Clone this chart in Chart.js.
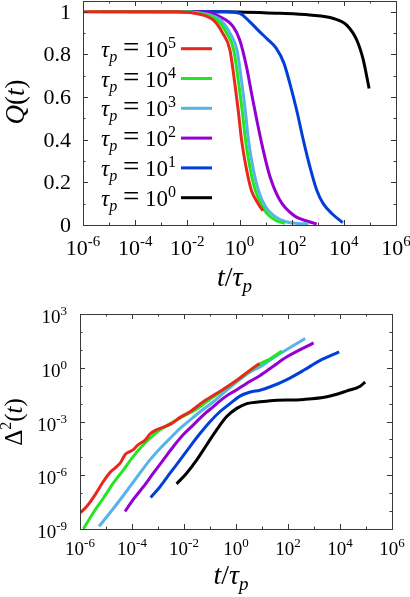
<!DOCTYPE html>
<html>
<head>
<meta charset="utf-8">
<script src="https://cdn.jsdelivr.net/npm/chart.js@4.4.1/dist/chart.umd.min.js"></script>
<style>
  html, body { margin: 0; padding: 0; background: #fff; }
  #wrap { position: relative; width: 410px; height: 597px; }
  canvas { position: absolute; left: 0; }
</style>
</head>
<body>
<div id="wrap">
  <canvas id="chart-q" width="410" height="300" style="top:0"></canvas>
  <canvas id="chart-msd" width="410" height="297" style="top:300px"></canvas>
</div>
<script>
// series order: tau_p = 10^5, 10^4, 10^3, 10^2, 10^1, 10^0
const tauExps = ['5', '4', '3', '2', '1', '0'];
const colors = ['#e8281e', '#22e622', '#56b4e9', '#9400d3', '#0040d8', '#000000'];

// Q(t) vs t/tau_p
const tQ5 = [1e-6, 1e-3, 5e-3, 3e-2, 1e-1, 2.3e-1, 4.3e-1, 6.6e-1, 8.9e-1, 1.2, 1.86, 2.9, 5.2, 7.8];
const q5 = [1, 1, 1, 0.988, 0.96, 0.898, 0.82, 0.664, 0.539, 0.398, 0.26, 0.16, 0.10, 0.067];
const tQ4 = [1.5e-6, 1e-3, 7e-3, 4.3e-2, 1.4e-1, 3.2e-1, 6e-1, 9.3e-1, 1.26, 1.7, 2.6, 4.1, 7.2, 11, 26, 55];
const q4 = [1, 1, 1, 0.988, 0.96, 0.9, 0.82, 0.664, 0.539, 0.398, 0.26, 0.16, 0.09, 0.055, 0.02, 0.008];
const tQ3 = [5e-6, 1e-3, 1e-2, 5.6e-2, 1.86e-1, 4.3e-1, 8e-1, 1.23, 1.66, 2.2, 3.4, 5.4, 10, 20, 60, 180, 440];
const q3 = [1, 1, 1, 0.988, 0.96, 0.9, 0.82, 0.664, 0.539, 0.398, 0.26, 0.16, 0.085, 0.045, 0.015, 0.007, 0.005];
const tQ2 = [5e-5, 1e-2, 5.5e-2, 1.8e-1, 5.8e-1, 1.03, 1.86, 2.9, 4.6, 8.1, 14.8, 35, 115, 500, 910];
const q2 = [1, 1, 0.999, 0.976, 0.929, 0.866, 0.741, 0.617, 0.492, 0.351, 0.226, 0.117, 0.047, 0.014, 0.005];
const tQ1 = [5e-4, 3.2e-1, 1.03, 2.5, 6, 12, 25, 50, 85, 155, 280, 500, 910, 1620, 4000, 9100];
const q1 = [1, 1, 0.992, 0.952, 0.905, 0.87, 0.83, 0.76, 0.664, 0.539, 0.398, 0.273, 0.164, 0.10, 0.047, 0.011];
const tQ0 = [5e-3, 2.3e-1, 35, 500, 4000, 12900, 31600, 56000, 76000, 93000];
const q0 = [1, 1, 0.992, 0.984, 0.968, 0.937, 0.866, 0.773, 0.695, 0.64];

// Delta^2(t) vs t/tau_p
const tD5 = [1e-6, 1.8e-6, 3.8e-6, 7.9e-6, 1.4e-5, 2.2e-5, 3.5e-5, 5.4e-5, 7.2e-5, 1.1e-4, 1.7e-4, 3.2e-4, 4.9e-4, 7.6e-4, 1.6e-3, 3.4e-3, 7.1e-3, 1.7e-2, 5.5e-2, 3.2e-1, 1.07, 3.5, 7.9];
const d5 = [7.8e-9, 1.8e-8, 8.1e-8, 4.5e-7, 1.4e-6, 2.5e-6, 4.7e-6, 1.4e-5, 1.9e-5, 2.6e-5, 4.9e-5, 9.3e-5, 2.0e-4, 3.1e-4, 4.8e-4, 7.9e-4, 1.7e-3, 3.5e-3, 1.26e-2, 6.2e-2, 0.2, 0.74, 1.74];
const tD4 = [1.35e-6, 3.2e-6, 7.9e-6, 1.9e-5, 4.7e-5, 1.1e-4, 3.6e-4, 1.2e-3, 3.9e-3, 9.3e-3, 3.1e-2, 0.1, 0.32, 1.07, 3.5, 8.5, 21, 59];
const d4 = [1e-9, 7.8e-9, 5.2e-8, 3.6e-7, 2.0e-6, 1.1e-5, 7.6e-5, 3.4e-4, 9.5e-4, 1.95e-3, 5.0e-3, 1.74e-2, 5.8e-2, 0.19, 0.68, 1.66, 3.2, 8.7];
const tD3 = [5.4e-6, 1.4e-5, 3.5e-5, 8.3e-5, 2.0e-4, 4.9e-4, 1.2e-3, 2.9e-3, 7.1e-3, 1.7e-2, 4.2e-2, 0.135, 0.44, 1.07, 3.5, 8.3, 20, 50, 457];
const d3 = [1.4e-9, 7.8e-9, 4.3e-8, 2.3e-7, 1.3e-6, 7.2e-6, 3.1e-5, 1.15e-4, 4.1e-4, 1.2e-3, 3.5e-3, 1.26e-2, 5.6e-2, 0.166, 0.59, 1.12, 2.6, 6.2, 43];
const tD2 = [5.4e-5, 1.1e-4, 2.75e-4, 6.6e-4, 1.6e-3, 3.9e-3, 9.3e-3, 2.3e-2, 5.5e-2, 0.135, 0.32, 1.07, 3.5, 8.5, 28, 91, 966];
const d2 = [9.5e-9, 4.3e-8, 2.3e-7, 1.3e-6, 7.2e-6, 4.0e-5, 1.8e-4, 6.5e-4, 2.3e-3, 6.8e-3, 1.95e-2, 6.0e-2, 0.178, 0.37, 1.26, 4.1, 24.5];
const tD1 = [5.2e-4, 1.2e-3, 2.9e-3, 7.1e-3, 1.7e-2, 4.2e-2, 0.1, 0.24, 0.59, 1.41, 3.55, 8.3, 21, 91, 400, 1740, 9300];
const d1 = [5.8e-8, 2.3e-7, 1.3e-6, 7.2e-6, 4.0e-5, 2.2e-4, 9.8e-4, 3.5e-3, 1.0e-2, 2.6e-2, 4.4e-2, 5.6e-2, 8.7e-2, 0.22, 0.72, 2.6, 7.6];
const tD0 = [5.2e-3, 1.26e-2, 3.1e-2, 7.4e-2, 0.18, 0.44, 1.07, 2.6, 8.3, 21, 400, 3160, 18600, 60000, 93000];
const d0 = [3.3e-7, 1.3e-6, 7.2e-6, 4.9e-5, 3.4e-4, 1.9e-3, 5.4e-3, 1.0e-2, 1.26e-2, 1.45e-2, 1.7e-2, 2.4e-2, 5.1e-2, 9.3e-2, 0.16];

// axis ticks
const xMajor = [1e-6, 1e-4, 1e-2, 1, 1e2, 1e4, 1e6];
const xMajorLabels = ['-6', '-4', '-2', '0', '2', '4', '6'];
const xMinor = [1e-5, 1e-3, 1e-1, 1e1, 1e3, 1e5];
const qMajor = [0, 0.2, 0.4, 0.6, 0.8, 1];
const qMajorLabels = ['0', '0.2', '0.4', '0.6', '0.8', '1'];
const qMinor = [0.1, 0.3, 0.5, 0.7, 0.9];
const dMajor = [1e-9, 1e-6, 1e-3, 1, 1e3];
const dMajorLabels = ['-9', '-6', '-3', '0', '3'];
const dMinor = [1e-8, 1e-7, 1e-5, 1e-4, 1e-2, 1e-1, 1e1, 1e2];

const SERIF = '"Liberation Serif", "DejaVu Serif", serif';

// draws a row of text pieces: [text, size, italic, dy]
function drawRuns(ctx, runs, x, y, align) {
  const fontOf = r => `${r[2] ? 'italic ' : ''}${r[1]}px ${SERIF}`;
  let w = 0;
  runs.forEach(r => { ctx.font = fontOf(r); w += ctx.measureText(r[0]).width; });
  let cx = align === 'center' ? x - w / 2 : align === 'right' ? x - w : x;
  ctx.textAlign = 'left';
  ctx.textBaseline = 'alphabetic';
  runs.forEach(r => {
    ctx.font = fontOf(r);
    ctx.fillText(r[0], cx, y + (r[3] || 0));
    cx += ctx.measureText(r[0]).width;
  });
}

function pow10(exp, size) {
  return [['10', size], [exp, Math.round(size * 0.7), false, -Math.round(size * 0.4)]];
}

const framePlugin = {
  id: 'frame',
  afterDatasetsDraw(chart, args, o) {
    const ctx = chart.ctx;
    const a = chart.chartArea;
    const xs = chart.scales.x, ys = chart.scales.y;
    ctx.save();
    ctx.strokeStyle = '#383838';
    ctx.lineWidth = 1;
    ctx.beginPath();
    const tick = (vals, len) => {
      vals.forEach(v => {
        const px = Math.round(xs.getPixelForValue(v)) + 0.5;
        ctx.moveTo(px, a.bottom); ctx.lineTo(px, a.bottom - len);
        ctx.moveTo(px, a.top); ctx.lineTo(px, a.top + len);
      });
    };
    const ytick = (vals, len) => {
      vals.forEach(v => {
        const py = Math.round(ys.getPixelForValue(v)) + 0.5;
        ctx.moveTo(a.left, py); ctx.lineTo(a.left + len, py);
        ctx.moveTo(a.right, py); ctx.lineTo(a.right - len, py);
      });
    };
    tick(o.xMajor, 5); tick(o.xMinor, 2.5);
    ytick(o.yMajor, 5); ytick(o.yMinor, 2.5);
    ctx.stroke();
    ctx.strokeRect(Math.round(a.left) + 0.5, Math.round(a.top) + 0.5,
      Math.round(a.right - a.left), Math.round(a.bottom - a.top));

    ctx.fillStyle = '#000';
    const fs = o.fontSize;
    o.xMajor.forEach((v, i) => {
      drawRuns(ctx, pow10(o.xLabels[i], fs), xs.getPixelForValue(v), a.bottom + o.xLabelDy, 'center');
    });
    o.yMajor.forEach((v, i) => {
      const runs = o.yLog ? pow10(o.yLabels[i], fs) : [[o.yLabels[i], fs]];
      drawRuns(ctx, runs, a.left - o.yLabelGap, ys.getPixelForValue(v) + o.yLabelDy, 'right');
    });

    // axis titles
    drawRuns(ctx, o.xTitle, (a.left + a.right) / 2 - 5, o.xTitleY, 'center');
    ctx.save();
    ctx.translate(o.yTitleX, o.yTitleY);
    ctx.rotate(-Math.PI / 2);
    drawRuns(ctx, o.yTitle, 0, 0, 'center');
    ctx.restore();

    // key
    if (o.key) {
      o.key.forEach((k, i) => {
        const ly = o.keyY[i];
        drawRuns(ctx, [['τ', 23, true], ['p', 16, true, 5], [' ', 23], ['=', 29], [' ', 23], ...pow10(k.exp, 23)], 176, ly + 8, 'right');
        ctx.strokeStyle = k.color;
        ctx.lineWidth = 3;
        ctx.beginPath();
        ctx.moveTo(181, ly); ctx.lineTo(212, ly);
        ctx.stroke();
      });
    }
    ctx.restore();
  }
};

function makeSets(ts, vs) {
  return ts.map((t, k) => ({
    data: t.map((x, i) => ({ x, y: vs[k][i] })),
    borderColor: colors[k],
    borderWidth: 3,
    pointRadius: 0,
    fill: false,
    cubicInterpolationMode: 'monotone'
  }));
}

function axes(yCfg, xHeight, yWidth) {
  return {
    x: {
      type: 'logarithmic', min: 1e-6, max: 1e6,
      grid: { display: false }, border: { display: false }, ticks: { display: false },
      afterFit: s => { s.height = xHeight; }
    },
    y: Object.assign({
      grid: { display: false }, border: { display: false }, ticks: { display: false },
      afterFit: s => { s.width = yWidth; }
    }, yCfg)
  };
}

new Chart(document.getElementById('chart-q'), {
  type: 'line',
  data: { datasets: makeSets([tQ5, tQ4, tQ3, tQ2, tQ1, tQ0], [q5, q4, q3, q2, q1, q0]) },
  options: {
    responsive: false, animation: false, devicePixelRatio: 1,
    layout: { padding: { left: 0, right: 14, top: 1, bottom: 0 } },
    scales: axes({ type: 'linear', min: 0, max: 1.05 }, 75, 83),
    plugins: {
      legend: { display: false }, tooltip: { enabled: false },
      frame: {
        xMajor, xMinor, xLabels: xMajorLabels,
        yMajor: qMajor, yMinor: qMinor, yLabels: qMajorLabels, yLog: false,
        fontSize: 22, xLabelDy: 30, yLabelGap: 12, yLabelDy: 7,
        xTitle: [['t', 28, true], ['/', 28], ['τ', 28, true], ['p', 19, true, 6]], xTitleY: 286,
        yTitle: [['Q', 27, true], ['(', 27], ['t', 27, true], [')', 27]], yTitleX: 24, yTitleY: 102,
        key: tauExps.map((exp, i) => ({ exp, color: colors[i] })),
        keyY: [48.7, 78.5, 108.3, 138.1, 167.9, 197.7]
      }
    }
  },
  plugins: [framePlugin]
});

new Chart(document.getElementById('chart-msd'), {
  type: 'line',
  data: { datasets: makeSets([tD5, tD4, tD3, tD2, tD1, tD0], [d5, d4, d3, d2, d1, d0]) },
  options: {
    responsive: false, animation: false, devicePixelRatio: 1,
    layout: { padding: { left: 0, right: 18, top: 14, bottom: 0 } },
    scales: axes({ type: 'logarithmic', min: 1e-9, max: 1e3 }, 68, 80),
    plugins: {
      legend: { display: false }, tooltip: { enabled: false },
      frame: {
        xMajor, xMinor, xLabels: xMajorLabels,
        yMajor: dMajor, yMinor: dMinor, yLabels: dMajorLabels, yLog: true,
        fontSize: 19, xLabelDy: 26, yLabelGap: 13, yLabelDy: 9,
        xTitle: [['t', 28, true], ['/', 28], ['τ', 28, true], ['p', 19, true, 6]], xTitleY: 284,
        yTitle: [['Δ', 25], ['2', 16, false, -11], ['(', 25], ['t', 25, true], [')', 25]], yTitleX: 22, yTitleY: 122
      }
    }
  },
  plugins: [framePlugin]
});
</script>
</body>
</html>
